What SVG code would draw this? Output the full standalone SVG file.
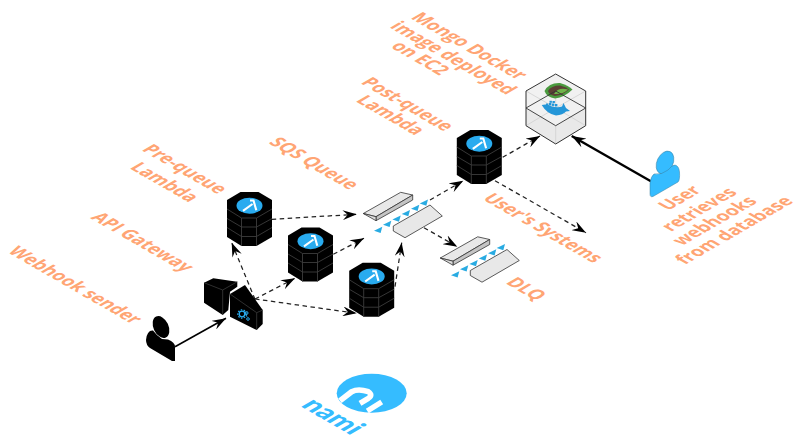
<svg xmlns="http://www.w3.org/2000/svg" xmlns:xlink="http://www.w3.org/1999/xlink" width="798" height="441" viewBox="0 0 798 441">
<style>
.lb{font-family:"Open Sans","Noto Sans",sans-serif;font-weight:700;font-size:17.3px;fill:#ffa574}
.d{fill:none;stroke:#222;stroke-width:1.25;stroke-dasharray:4.5 3.5;marker-end:url(#ah)}
.s{fill:none;stroke:#000;marker-end:url(#ah)}
.g{fill:none;stroke:#3c3c3c;stroke-width:.9}
.tri{fill:#29abe2}
.q{stroke:#333;stroke-width:.8}
</style>
<defs>
<marker id="ah" markerUnits="userSpaceOnUse" markerWidth="15" markerHeight="10" refX="14" refY="5" orient="auto" viewBox="0 0 15 10">
<path d="M14,5 L0,0 L5,5 L0,10 Z" fill="#000"/>
</marker>
<g id="lam">
<path d="M-9,0 L9,0 L22.5,8 L22.5,45 L7,54 L-8,54 L-22.5,45 L-22.5,8 Z" fill="#000"/>
<path class="g" d="M-22.5,17 L-8,26 L7,26 L22.5,17 M-22.5,26.5 L-8,35 L7,35 L22.5,26.5 M-22.5,35.5 L-8,44.5 L7,44.5 L22.5,35.5 M-8,26 V54 M7,26 V54"/>
<ellipse cx="0" cy="13.7" rx="13" ry="8" fill="#29abef"/>
<path d="M.5,8.5 L4,8.5 L6.8,18.2 M3,12 L-6.5,18.8" fill="none" stroke="#fff" stroke-width="2.1"/>
</g>
<g id="queue">
<path class="q" d="M363.3,213.5 L400.7,192.3 L412.7,195 L376,216.7 Z" fill="#e8e8e8"/>
<path class="q" d="M376,216.7 L412.7,195 L412.7,200 L376,220.7 Z" fill="#c4c4c4"/>
<path class="q" d="M363.3,213.5 L376,216.7 L376,220.7 Z" fill="#ddd"/>
<path class="q" d="M393.3,226 L430,205 L442.3,216 L405,237.7 L393.3,231 Z" fill="#e8e8e8"/>
<path class="tri" d="M374,230.7 L382.3,226.7 L380.6,233 Z"/>
<path class="tri" d="M383,224.7 L391.3,220.7 L389.6,227 Z"/>
<path class="tri" d="M392.4,219.4 L400.7,215.4 L399,221.7 Z"/>
<path class="tri" d="M401.7,214 L410,210 L408.3,216.3 Z"/>
<path class="tri" d="M411,208.7 L419.3,204.7 L417.6,211 Z"/>
<path class="tri" d="M419.7,203.4 L428,199.4 L426.3,205.7 Z"/>
</g>
</defs>
<rect width="798" height="441" fill="#fff"/>
<g id="connectors">
<path class="d" d="M271.7,219.3 L356.7,214.3"/>
<path class="d" d="M333.3,254.3 L364,238.3"/>
<path class="d" d="M255,299.3 L231.7,242.7"/>
<path class="d" d="M255,299 L295,278.3"/>
<path class="d" d="M255,299 L356.7,313.3"/>
<path class="d" d="M395,286.7 L401.7,242.7"/>
<path class="d" d="M430,200 L463.3,180.7"/>
<path class="d" d="M502.7,157.3 L540,136"/>
<path class="d" d="M495,180.7 L586,232.7"/>
<path class="d" d="M424,227.7 L457.3,246.7"/>
<path class="s" stroke-width="2.4" d="M651.7,181.7 L571.7,136"/>
<path class="s" stroke-width="1.6" d="M175,346.7 L226,318.3"/>
</g>
<g id="lambda-pre-1"><use xlink:href="#lam" href="#lam" x="249.5" y="192"/></g>
<g id="lambda-pre-2"><use xlink:href="#lam" href="#lam" x="310.5" y="227.5"/></g>
<g id="lambda-pre-3"><use xlink:href="#lam" href="#lam" x="371.7" y="262.7"/></g>
<g id="lambda-post"><use xlink:href="#lam" href="#lam" x="479.3" y="130"/></g>
<g id="sqs"><use xlink:href="#queue" href="#queue"/></g>
<g id="dlq"><use xlink:href="#queue" href="#queue" x="77" y="44.5"/></g>
<g id="gateway">
<path d="M204,282.7 L213.3,278.3 L237.3,281.7 L237.3,286.7 L230,291.7 L228.3,310 L222.7,315 L204,302.7 Z" fill="#000"/>
<path d="M204,282.7 L222.7,290 L237.3,281.7 M222.7,290 V315" fill="none" stroke="#444" stroke-width=".7"/>
<path d="M230,294 L245,285 L262.7,310 L262.7,324 L256.7,330 L230,316.7 Z" fill="#000"/>
<path d="M230,294 L256.7,312.7 L262.7,310 M256.7,312.7 V330" fill="none" stroke="#444" stroke-width=".7"/>
<g fill="none" stroke="#29abef"><circle cx="242" cy="314" r="2.8" stroke-width="1.3"/><circle cx="242" cy="314" r="4.2" stroke-width="1.2" stroke-dasharray="1.5 1.5"/><circle cx="246.5" cy="313" r="1.5" stroke-width="1"/><circle cx="248" cy="319" r="1.3" stroke-width="1"/><path d="M245,312 L247,317" stroke-width=".8"/></g>
</g>
<g id="mongo">
<path d="M555.7,74 L585.7,91 V125.7 L555.7,144 L526,125.7 V91 Z" fill="#f1f1f1"/>
<path d="M526,125.7 L555.7,144 L585.7,125.7 V108 L555.7,125.7 L526,108 Z" fill="#e9e9e9"/>
<path d="M526,91 L555.7,108 M585.7,91 L555.7,108 M555.7,108 V91 M555.7,125.7 V144 M526,125.7 L555.7,108 L585.7,125.7" stroke="#d0d0d0" stroke-width=".8" fill="none"/>
<path d="M544.5,91 Q549,82.5 560,83 Q568,85 572.5,89.5 Q565,97 555,98.5 Q546.5,97 544.5,91 Z" fill="#4a9a3e"/>
<path d="M548,91 Q551,85.5 560,85.5 Q566,87 569,89.5 Q563,95 555,96 Q549,95 548,91 Z" fill="#5b4034"/>
<path d="M554,94 Q558,87 568,89.5 Q563,94.5 554,94 Z" fill="#6fb54a"/>
<path d="M526,108 L555.7,91 L585.7,108 L555.7,125.7 Z" fill="none" stroke="#333" stroke-width=".9"/>
<g fill="#2496d8"><path d="M541.7,105 Q547,103.5 552,106.5 Q558,108 562,106.5 L563.5,103 L566,108 L570,111 L566,111.5 Q563,115 556,115.5 Q547,114 541.7,105 Z"/><rect x="546" y="103.5" width="2.4" height="2"/><rect x="549" y="103" width="2.4" height="2.4"/><rect x="552" y="103.5" width="2.4" height="2.4"/><rect x="555" y="104" width="2.4" height="2.4"/><rect x="549.5" y="100.8" width="2.4" height="2"/><rect x="552.5" y="101" width="2.4" height="2"/></g>
<path d="M555.7,74 L585.7,91 V125.7 L555.7,144 L526,125.7 V91 Z" fill="none" stroke="#333" stroke-width="1"/>
</g>
<g id="webhook-sender">
<ellipse cx="161" cy="327" rx="7.5" ry="11.5" fill="#000" transform="rotate(-25 161 327)"/>
<path d="M146,340 Q147,330 153,330.5 Q157,336 162,339 L168,339.5 Q175,342 175,347 V361 L172,361 L150,348 Q146,345 146,340 Z" fill="#000"/>
</g>
<g id="user">
<ellipse cx="665" cy="162.5" rx="8" ry="12" fill="#35bcff" stroke="#3a7f9f" stroke-width=".5" transform="rotate(25 665 162.5)"/>
<path d="M650,194 L650,183 Q651,176 654,174 Q662,175 668,170 Q672,165 675,165 Q679,166 679.5,172 Q680,180 678,182 L653,196.5 Q650,197.5 650,194 Z" fill="#35bcff" stroke="#3a7f9f" stroke-width=".5"/>
</g>
<g id="nami">
<ellipse cx="371.7" cy="393.3" rx="35" ry="19.5" fill="#35bcff"/>
<path d="M340,400.7 L351.7,391.7 Q358.3,388.3 368.3,391.7 Q373.3,395 368.3,398.3 L360,403.3 M367.3,411 L381.7,402" fill="none" stroke="#fff" stroke-width="5.5"/>
<text transform="matrix(.866 .5 -.866 .5 300 406)" style="font-family:Lato,sans-serif;font-weight:900;font-size:27px;fill:#35bcff">nami</text>
</g>
<g id="labels">
<text class="lb" transform="matrix(.866 .5 -.95 .55 7 252)">Webhook sender</text>
<text class="lb" transform="matrix(.866 .5 -.95 .55 90 218)">API Gateway</text>
<text class="lb" transform="matrix(.866 .5 -.95 .55 141 150)">Pre-queue</text>
<text class="lb" transform="matrix(.866 .5 -.95 .55 129 168)">Lambda</text>
<text class="lb" transform="matrix(.866 .5 -.95 .55 268 143)">SQS Queue</text>
<text class="lb" transform="matrix(.866 .5 -.95 .55 360 83)">Post-queue</text>
<text class="lb" transform="matrix(.866 .5 -.95 .55 355 101)">Lambda</text>
<text class="lb" transform="matrix(.866 .5 -.95 .55 410 18)">Mongo Docker</text>
<text class="lb" transform="matrix(.866 .5 -.95 .55 389 27)">image deployed</text>
<text class="lb" transform="matrix(.866 .5 -.95 .55 390 47)">on EC2</text>
<text class="lb" transform="matrix(.866 .5 -.95 .55 505 283)">DLQ</text>
<text class="lb" transform="matrix(.866 .5 -.95 .55 482 199)">User's Systems</text>
<text class="lb" transform="matrix(.866 -.5 .95 .55 668 211)">User</text>
<text class="lb" transform="matrix(.866 -.5 .95 .55 671 232)">retrieves</text>
<text class="lb" transform="matrix(.866 -.5 .95 .55 682 246)">webhooks</text>
<text class="lb" transform="matrix(.866 -.5 .95 .55 685 265)">from database</text>
</g>
</svg>
